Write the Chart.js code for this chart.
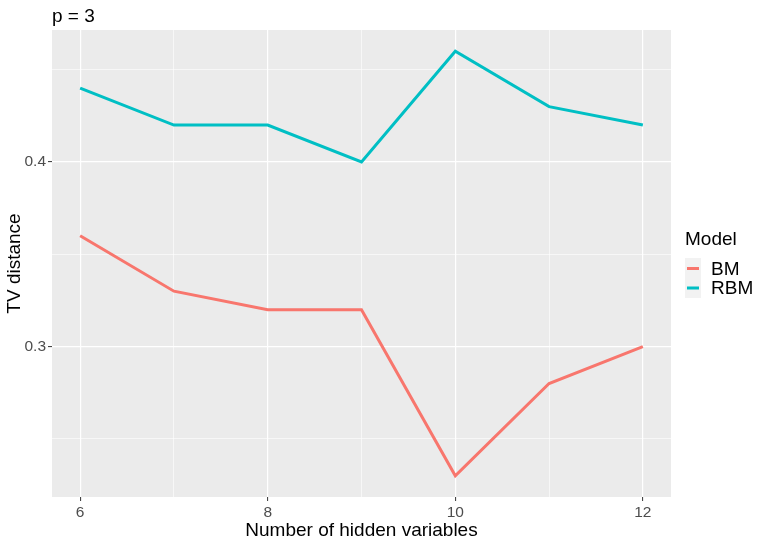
<!DOCTYPE html>
<html>
<head>
<meta charset="utf-8">
<script src="https://cdn.jsdelivr.net/npm/chart.js@4"></script>
<style>
  html, body { margin: 0; padding: 0; background: #fff; }
  #wrap { width: 763px; height: 545px; position: relative; }
</style>
</head>
<body>
<div id="wrap"><canvas id="tvChart"></canvas></div>
<script>
// -------------------- Data --------------------
const hiddenVars = [6, 7, 8, 9, 10, 11, 12];
const bmValues  = [0.36, 0.33, 0.32, 0.32, 0.23, 0.28, 0.30];
const rbmValues = [0.44, 0.42, 0.42, 0.40, 0.46, 0.43, 0.42];
const xTicks = [6, 7, 8, 9, 10, 11, 12];       // 7, 9, 11 are minor
const yTicks = [0.25, 0.3, 0.35, 0.4, 0.45];   // .25, .35, .45 are minor
const seriesNames = ['BM', 'RBM'];
const seriesColors = ['#F8766D', '#00BFC4'];

const FONT = '"Liberation Sans", Arial, Helvetica, sans-serif';

const isMajorX = v => Math.round(v) % 2 === 0;
const isMajorY = v => Math.abs(Math.round(v * 10) - v * 10) < 1e-6;

// -------------------- Panel + text plugin --------------------
const ggPlugin = {
  id: 'ggPlugin',
  beforeDraw(chart) {
    const { ctx, chartArea: a } = chart;
    ctx.save();
    ctx.fillStyle = '#EBEBEB';
    ctx.fillRect(a.left, a.top, a.right - a.left, a.bottom - a.top);
    ctx.restore();
  },
  afterDraw(chart) {
    const { ctx, chartArea: a } = chart;
    ctx.save();
    ctx.fillStyle = '#000';
    ctx.font = '19px ' + FONT;

    // title
    ctx.textAlign = 'left';
    ctx.textBaseline = 'alphabetic';
    ctx.fillText('p = 3', a.left, 22);

    // x axis title
    ctx.textAlign = 'center';
    ctx.fillText('Number of hidden variables', (a.left + a.right) / 2, 536);

    // y axis title
    ctx.save();
    ctx.translate(20, (a.top + a.bottom) / 2);
    ctx.rotate(-Math.PI / 2);
    ctx.fillText('TV distance', 0, 0);
    ctx.restore();

    // legend
    ctx.textAlign = 'left';
    ctx.textBaseline = 'middle';
    ctx.fillText('Model', 685, 240);
    ctx.fillStyle = '#F2F2F2';
    ctx.fillRect(685, 258, 16, 40);
    seriesNames.forEach((name, i) => {
      const y = 268.5 + i * 19.5;
      ctx.strokeStyle = seriesColors[i];
      ctx.lineWidth = 3;
      ctx.beginPath();
      ctx.moveTo(687, y);
      ctx.lineTo(699, y);
      ctx.stroke();
      ctx.fillStyle = '#000';
      ctx.fillText(name, 711, y + 1);
    });
    ctx.restore();
  }
};

// -------------------- Chart --------------------
const ctx = document.getElementById('tvChart').getContext('2d');
const chart = new Chart(ctx, {
  type: 'line',
  data: {
    datasets: [
      {
        label: seriesNames[0],
        data: hiddenVars.map((x, i) => ({ x, y: bmValues[i] })),
        borderColor: seriesColors[0],
        borderWidth: 3,
        pointRadius: 0,
        tension: 0,
      },
      {
        label: seriesNames[1],
        data: hiddenVars.map((x, i) => ({ x, y: rbmValues[i] })),
        borderColor: seriesColors[1],
        borderWidth: 3,
        pointRadius: 0,
        tension: 0,
      }
    ]
  },
  options: {
    responsive: true,
    maintainAspectRatio: false,
    animation: false,
    layout: { padding: { left: 0, right: 92, top: 30, bottom: 0 } },
    plugins: {
      legend: { display: false },
      tooltip: { enabled: false },
      title: { display: false },
    },
    scales: {
      x: {
        type: 'linear',
        min: 5.7,
        max: 12.3,
        afterBuildTicks: s => { s.ticks = xTicks.map(v => ({ value: v })); },
        afterFit: s => { s.height = 48; },
        border: { display: false },
        grid: {
          color: '#FFFFFF',
          lineWidth: c => (c.tick && isMajorX(c.tick.value) ? 1.2 : 0.6),
          tickColor: c => (c.tick && isMajorX(c.tick.value) ? '#333333' : 'rgba(0,0,0,0)'),
          tickLength: 4,
          tickWidth: 1,
        },
        ticks: {
          padding: 2,
          maxRotation: 0,
          autoSkip: false,
          color: '#4D4D4D',
          font: { family: FONT, size: 15.5 },
          callback: v => (isMajorX(v) ? String(v) : ''),
        },
      },
      y: {
        type: 'linear',
        min: 0.2185,
        max: 0.4715,
        afterBuildTicks: s => { s.ticks = yTicks.map(v => ({ value: v })); },
        afterFit: s => { s.width = 52; },
        border: { display: false },
        grid: {
          color: '#FFFFFF',
          lineWidth: c => (c.tick && isMajorY(c.tick.value) ? 1.2 : 0.6),
          tickColor: c => (c.tick && isMajorY(c.tick.value) ? '#333333' : 'rgba(0,0,0,0)'),
          tickLength: 4,
          tickWidth: 1,
        },
        ticks: {
          padding: 2,
          autoSkip: false,
          color: '#4D4D4D',
          font: { family: FONT, size: 15.5 },
          callback: v => (isMajorY(v) ? v.toFixed(1) : ''),
        },
      }
    }
  },
  plugins: [ggPlugin]
});
</script>
</body>
</html>
